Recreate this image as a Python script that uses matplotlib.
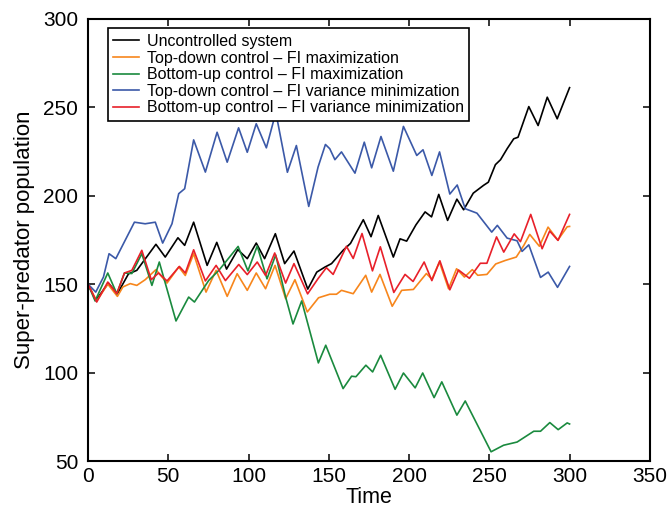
import numpy as np
import matplotlib
matplotlib.use("Agg")
import matplotlib.pyplot as plt


# Data -------------------------------------------------------------------

Black_T = [0, 4.8, 12.7, 18.3, 25.2, 30.4, 42.3, 48.1, 56, 60.2, 65.8, 74.2, 80.2, 86.3,
           93.3, 99.2, 104.8, 110, 116.7, 122.5, 128.3, 136.9, 142.5, 147.5, 151.7, 158.9,
           163.5, 171.5, 176.3, 180.8, 190.2, 194.4, 198.5, 204.3, 210, 214, 218.5, 224,
           229.8, 234, 240, 246.4, 249.4, 253.8, 257, 261.1, 265.2, 267.9, 274.6, 280.4,
           286.1, 292.3, 296.4, 300]
Black_Y = [150, 140.8, 150.6, 144.6, 155.8, 157.8, 172.5, 165.3, 176.2, 171.9, 185, 160.6,
           173.6, 158.5, 169.5, 164.4, 173.2, 164.4, 178.5, 161.6, 168.7, 147.2, 156.8, 159.6,
           161.6, 169.1, 173, 186.4, 176.8, 188.8, 165.3, 175.6, 174.3, 183.5, 190.8, 188,
           200.7, 186, 198, 192, 201.4, 205.8, 207.6, 217.5, 220.3, 226.5, 232.1, 233, 250.3,
           239.6, 255.6, 243.4, 252.8, 261]

Orange_T = [0, 5.4, 12.3, 18.3, 21.7, 26.3, 30.4, 35.6, 42.3, 49.2, 56.5, 60.6, 65.8, 73.5,
            79.8, 86.7, 92.9, 99.2, 104.8, 110.6, 116.5, 123.1, 128.9, 136.6, 143.6, 150.6,
            154.8, 157.9, 165.2, 173, 176.7, 181.9, 189.5, 195.4, 202.7, 210.8, 214.2, 218.9,
            224.6, 229.6, 234.5, 239.4, 242.8, 248.5, 254, 260, 266.8, 271.5, 275.2, 281.2,
            286.6, 292.7, 298.5, 300]
Orange_Y = [150, 140.5, 150, 143.1, 148.4, 150.3, 149.3, 152.5, 158.2, 150.6, 159.7, 154.9,
            167.2, 145.5, 157.8, 143.1, 155.9, 146.5, 156.3, 147.4, 160.6, 141.8, 152.5, 134.3,
            142.3, 144.3, 144.3, 146.5, 144.6, 155, 145.5, 155.5, 137.5, 146.5, 147, 156,
            152.8, 162.5, 147.4, 158.7, 154, 158.2, 155, 155.5, 161.4, 163.4, 165.3, 171.9,
            178.1, 171.4, 182.2, 174.9, 182.4, 182.6]

Green_T = [0, 4.4, 12.3, 17.9, 22.7, 27.3, 33.5, 39.8, 44.4, 54.8, 62.7, 66.3, 75.2, 81.5,
           93.5, 99.6, 105.4, 111.5, 116.9, 123.1, 127.7, 133.1, 143.5, 148.1, 158.9, 164.2,
           166.9, 173.1, 177.3, 182.3, 191.3, 196.5, 203.8, 208.5, 215.6, 220.4, 229.8, 235,
           251.1, 258.9, 267.3, 277.7, 281.9, 287.7, 292.9, 298.5, 300]
Green_Y = [150, 140.5, 156.3, 144.6, 156.3, 156, 167.2, 149.3, 162.5, 129.2, 142.7, 139.9,
           152.1, 157.8, 171.3, 157.5, 171.5, 153, 166.5, 142.7, 127.5, 140.5, 105.5, 115.5,
           91, 98, 97.7, 104.2, 100.4, 109.8, 90.6, 99.8, 91.4, 99.8, 85.9, 94.8, 76, 84,
           55.3, 59, 60.8, 66.9, 66.9, 71.8, 67.8, 71.6, 71]

Blue_T = [0, 4.8, 9.6, 13.1, 17.3, 23.1, 28.9, 35.6, 41.9, 46.5, 52.3, 56.5, 60.2, 65.8,
          73.1, 80.4, 86.7, 93.8, 99.2, 104.8, 111.1, 117, 124.2, 129.8, 137.5, 143.3, 147.9,
          150.6, 153.8, 157.9, 166.3, 172.1, 176.7, 182.5, 190.2, 196.5, 204.8, 208.7, 214.2,
          219, 225.4, 230, 235, 242.3, 251.5, 255, 261.1, 267.3, 270.4, 274.6, 281.9, 286.7,
          292.5, 300]
Blue_Y = [150, 145.5, 154, 167.2, 164.4, 174.7, 185, 184.1, 185, 173.2, 184.1, 201.1, 203.9,
          231.5, 213.3, 235.8, 218.9, 238.3, 224.5, 240.6, 227, 247, 213.2, 228.3, 193.9,
          216.1, 228.9, 226.5, 220.3, 224.7, 212.7, 230.2, 215.7, 233.4, 213.8, 239.1, 222.7,
          225.9, 211.4, 224.7, 200.9, 206, 192.6, 190.1, 179.4, 183.2, 176, 174.5, 168.5,
          172.2, 153.8, 156.8, 148.2, 160]

Red_T = [0, 5.4, 12.3, 17.9, 22.7, 27.3, 33.5, 39.4, 43.9, 49.2, 56.9, 60.6, 65.8, 73.1,
         79.8, 85.6, 93.9, 99.2, 105.4, 110.6, 116.3, 123.1, 128.3, 136.8, 143.3, 148.5,
         152.7, 161, 165.2, 170.7, 177.2, 182.1, 190.5, 197.5, 202.5, 209.4, 214.2, 219.2,
         225.4, 230.8, 237.6, 244.4, 248.5, 254.5, 259, 265.5, 269.4, 275.8, 282.9, 287.6,
         292.8, 300]
Red_Y = [150, 139.9, 151.2, 144.6, 156.3, 157.8, 169.1, 152.5, 156.3, 151.8, 160, 156.3,
         169.4, 151.8, 160.6, 152, 161.1, 155.4, 162.5, 154.9, 167.6, 150.6, 161.6, 144.5,
         153.1, 159.3, 155.5, 171.4, 164.5, 178.6, 157.5, 171.1, 145.3, 155.5, 151.5, 162.5,
         152, 163.2, 146.8, 158, 153.3, 161.8, 161.8, 176.7, 168.1, 178.4, 174, 189.4, 170,
         180, 174.7, 189.4]

Labels = ["Uncontrolled system",
          "Top-down control \u2013 FI maximization",
          "Bottom-up control \u2013 FI maximization",
          "Top-down control \u2013 FI variance minimization",
          "Bottom-up control \u2013 FI variance minimization"]

Colors = ["black", "#f7861c", "#1a8a3e", "#3b59a8", "#e8202a"]

X_Ticks = [0, 50, 100, 150, 200, 250, 300, 350]
Y_Ticks = [50, 100, 150, 200, 250, 300]


# Plotting ---------------------------------------------------------------

plt.rcParams["font.family"] = ["Liberation Sans", "DejaVu Sans"]

fig = plt.figure(figsize=(6.72, 5.17), dpi=100)
ax = fig.add_axes([0.131, 0.108, 0.836, 0.856])

Series = [(Black_T, Black_Y), (Orange_T, Orange_Y), (Green_T, Green_Y),
          (Blue_T, Blue_Y), (Red_T, Red_Y)]

for i in range(len(Series)):
    T, Y = Series[i]
    ax.plot(T, Y, color=Colors[i], lw=1.2, label=Labels[i], solid_joinstyle="round")

ax.set_xlim(0, 350)
ax.set_ylim(50, 300)
ax.set_xticks(X_Ticks)
ax.set_yticks(Y_Ticks)

ax.tick_params(direction="in", top=True, right=True, length=5, width=1.1, labelsize=15)
ax.tick_params(axis="y", pad=7)
ax.tick_params(axis="x", pad=4)
for Side in ax.spines.values():
    Side.set_linewidth(1.5)

ax.set_xlabel("Time", fontsize=15.5, labelpad=1)
ax.set_ylabel("Super-predator population", fontsize=16, labelpad=6)

Leg = ax.legend(loc="upper left", bbox_to_anchor=(0.035, 0.978), borderaxespad=0,
                fontsize=11.5, handlelength=1.6, handletextpad=0.5, labelspacing=0.1,
                borderpad=0.35, fancybox=False, framealpha=1, edgecolor="black")
Leg.get_frame().set_linewidth(1.2)

plt.savefig("out.png", dpi=100)
